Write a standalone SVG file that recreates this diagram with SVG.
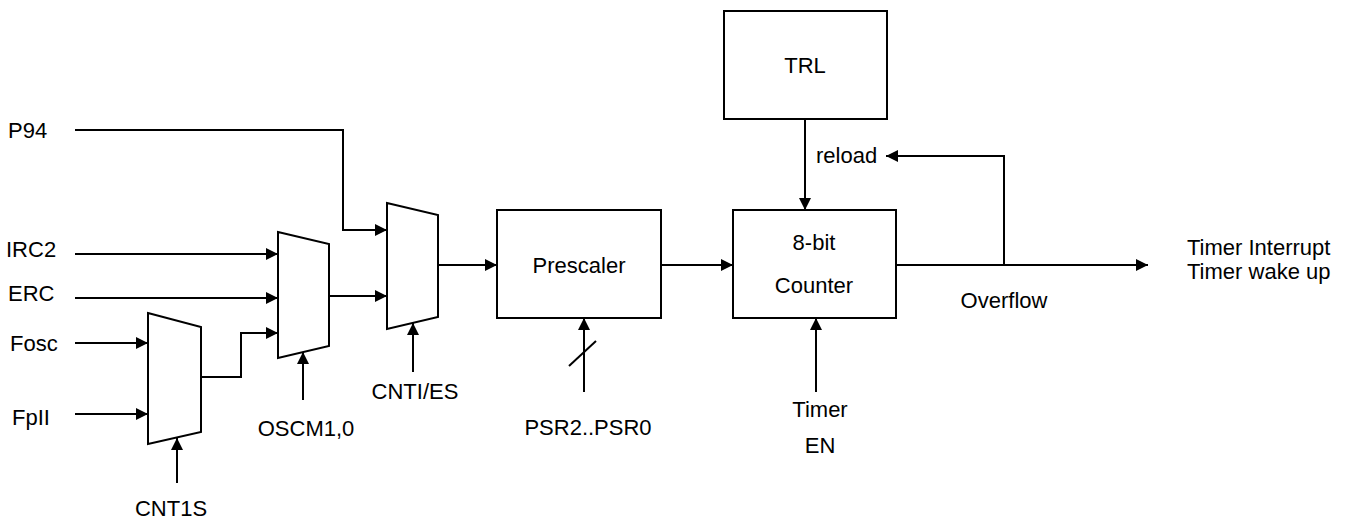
<svg xmlns="http://www.w3.org/2000/svg" width="1352" height="520" viewBox="0 0 1352 520">
<style>
.b{fill:#fff;stroke:#000;stroke-width:2}
.c{fill:none;stroke:#000;stroke-width:2}
text{font-family:"Liberation Sans",Arial,sans-serif;font-size:22px;fill:#000}
.m{text-anchor:middle}
</style>
<defs>
<marker id="a" markerUnits="userSpaceOnUse" markerWidth="13" markerHeight="12" refX="12" refY="6" orient="auto">
<path d="M0,0 L12,6 L0,12 z" fill="#000"/>
</marker>
</defs>
<rect width="1352" height="520" fill="#fff"/>
<g id="connectors">
<path class="c" d="M75,130 H343 V230 H387" marker-end="url(#a)"/>
<path class="c" d="M75,254 H278" marker-end="url(#a)"/>
<path class="c" d="M75,298 H278" marker-end="url(#a)"/>
<path class="c" d="M75,343 H148" marker-end="url(#a)"/>
<path class="c" d="M75,414 H148" marker-end="url(#a)"/>
<path class="c" d="M201,377 H241 V333 H278" marker-end="url(#a)"/>
<path class="c" d="M329,296 H387" marker-end="url(#a)"/>
<path class="c" d="M438,265 H497" marker-end="url(#a)"/>
<path class="c" d="M177,483 V438" marker-end="url(#a)"/>
<path class="c" d="M303,400 V352" marker-end="url(#a)"/>
<path class="c" d="M413,372 V323" marker-end="url(#a)"/>
<path class="c" d="M584,392 V318" marker-end="url(#a)"/>
<path class="c" d="M569,366 L596,341"/>
<path class="c" d="M661,265 H733" marker-end="url(#a)"/>
<path class="c" d="M805,119 V210" marker-end="url(#a)"/>
<path class="c" d="M816,392 V318" marker-end="url(#a)"/>
<path class="c" d="M896,265 H1148" marker-end="url(#a)"/>
<path class="c" d="M1004,265 V156 H886" marker-end="url(#a)"/>
</g>
<g id="mux-cnt1s"><polygon class="b" points="148,313 201,327 201,432 148,444"/></g>
<g id="mux-oscm"><polygon class="b" points="278,232 329,244 329,346 278,358"/></g>
<g id="mux-cntes"><polygon class="b" points="387,203 438,215 438,317 387,329"/></g>
<g id="prescaler"><rect class="b" x="497" y="210" width="164" height="108"/><text class="m" x="579" y="273">Prescaler</text></g>
<g id="trl"><rect class="b" x="724" y="11" width="163" height="108"/><text class="m" x="805" y="73">TRL</text></g>
<g id="counter"><rect class="b" x="733" y="210" width="163" height="108"/><text class="m" x="814" y="250">8-bit</text><text class="m" x="814" y="293">Counter</text></g>
<g id="labels">
<text x="8" y="138">P94</text>
<text x="6" y="257">IRC2</text>
<text x="8" y="301">ERC</text>
<text x="10" y="351">Fosc</text>
<text x="12" y="425">FpII</text>
<text class="m" x="171" y="516">CNT1S</text>
<text class="m" x="306" y="436">OSCM1,0</text>
<text class="m" x="415" y="399">CNTI/ES</text>
<text class="m" x="588" y="435">PSR2..PSR0</text>
<text x="816" y="163">reload</text>
<text class="m" x="1004" y="308">Overflow</text>
<text class="m" x="820" y="417">Timer</text>
<text class="m" x="820" y="453">EN</text>
<text x="1187" y="255">Timer Interrupt</text>
<text x="1187" y="279">Timer wake up</text>
</g>
</svg>
